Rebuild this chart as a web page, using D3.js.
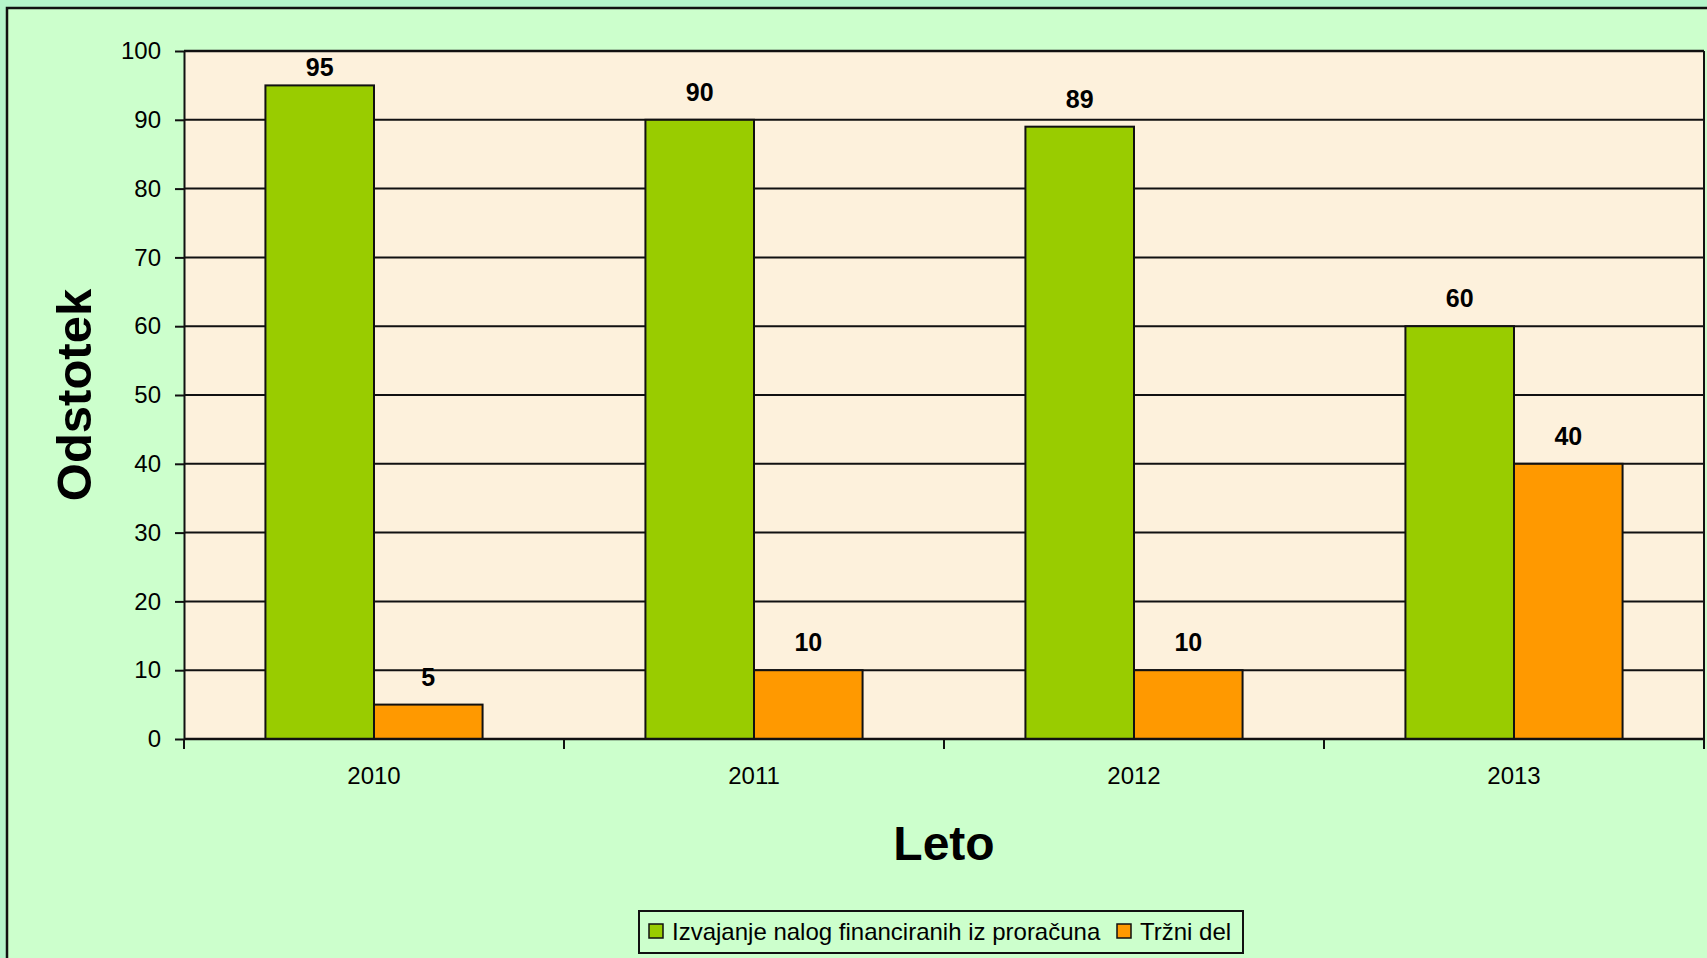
<!DOCTYPE html>
<html>
<head>
<meta charset="utf-8">
<script src="https://cdn.jsdelivr.net/npm/d3@7/dist/d3.min.js"></script>
<style>
  body { margin: 0; background: #b5f5ca; }
  svg { display: block; }
  text { font-family: "Liberation Sans", Arial, sans-serif; fill: #000; }
</style>
</head>
<body>
<div id="chart"></div>
<script>

var years = ["2010", "2011", "2012", "2013"];
var seriesNames = ["Izvajanje nalog financiranih iz proračuna", "Tržni del"];
var budgetValues = [95, 90, 89, 60];
var marketValues = [5, 10, 10, 40];
var yTicks = [0, 10, 20, 30, 40, 50, 60, 70, 80, 90, 100];

var colors = ["#99cc00", "#ff9900"];

var W = 1707, H = 958;
var margin = {top: 51, right: 3, bottom: 219, left: 184},
    width = W - margin.left - margin.right,
    height = H - margin.top - margin.bottom;

var svg = d3.select("#chart").append("svg")
    .attr("width", W)
    .attr("height", H);

// outer chart frame (runs off the right / bottom edge)
svg.append("rect")
    .attr("x", 7).attr("y", 8)
    .attr("width", W + 20).attr("height", H + 20)
    .attr("fill", "#ccffcc")
    .attr("stroke", "#111")
    .attr("stroke-width", 2.5);

var g = svg.append("g")
    .attr("transform", "translate(" + margin.left + "," + margin.top + ")");

// scales
var x0 = d3.scaleBand()
    .domain(years)
    .range([0, width])
    .padding(0);

var x1 = d3.scaleBand()
    .domain(seriesNames)
    .range([0, x0.bandwidth()])
    .paddingInner(0)
    .paddingOuter(0.75);

var y = d3.scaleLinear()
    .domain([0, 100])
    .range([height, 0]);

// plot background
g.append("rect")
    .attr("width", width)
    .attr("height", height)
    .attr("fill", "#fdf1dc");

// gridlines
g.append("g")
    .selectAll("line")
    .data(yTicks.slice(1))
    .enter().append("line")
    .attr("x1", 0).attr("x2", width)
    .attr("y1", function(d) { return y(d); })
    .attr("y2", function(d) { return y(d); })
    .attr("stroke", "#111")
    .attr("stroke-width", 2);

// right border of plot area
g.append("line")
    .attr("x1", width).attr("x2", width)
    .attr("y1", 0).attr("y2", height)
    .attr("stroke", "#111")
    .attr("stroke-width", 2);

// build rows from the arrays
var rows = years.map(function(yr, i) {
    return {year: yr, values: [
        {name: seriesNames[0], value: budgetValues[i], color: colors[0]},
        {name: seriesNames[1], value: marketValues[i], color: colors[1]}
    ]};
});

var groups = g.selectAll(".year")
    .data(rows)
    .enter().append("g")
    .attr("class", "year")
    .attr("transform", function(d) { return "translate(" + x0(d.year) + ",0)"; });

groups.selectAll("rect")
    .data(function(d) { return d.values; })
    .enter().append("rect")
    .attr("x", function(d) { return x1(d.name); })
    .attr("width", x1.bandwidth())
    .attr("y", function(d) { return y(d.value); })
    .attr("height", function(d) { return height - y(d.value); })
    .attr("fill", function(d) { return d.color; })
    .attr("stroke", "#111")
    .attr("stroke-width", 2);

// value labels
groups.selectAll(".lbl")
    .data(function(d) { return d.values; })
    .enter().append("text")
    .attr("class", "lbl")
    .attr("x", function(d) { return x1(d.name) + x1.bandwidth() / 2; })
    .attr("y", function(d) { return Math.max(y(d.value) - 19, 25); })
    .attr("text-anchor", "middle")
    .style("font-size", "25px")
    .style("font-weight", "bold")
    .text(function(d) { return d.value; });

// y axis
var yAxis = g.append("g")
    .call(d3.axisLeft(y).tickValues(yTicks).tickSize(9).tickPadding(14).tickSizeOuter(0));
yAxis.select(".domain").attr("stroke", "#111").attr("stroke-width", 2);
yAxis.selectAll(".tick line").attr("stroke", "#111").attr("stroke-width", 2);
yAxis.selectAll("text").style("font-size", "24px").attr("fill", "#000");

// top border (drawn after axis so it sits on top)
g.append("line")
    .attr("x1", 0).attr("x2", width)
    .attr("y1", 0).attr("y2", 0)
    .attr("stroke", "#111")
    .attr("stroke-width", 2.5);

// x axis
var xAxis = g.append("g")
    .attr("transform", "translate(0," + height + ")");
xAxis.append("line")
    .attr("x1", 0).attr("x2", width)
    .attr("stroke", "#111")
    .attr("stroke-width", 2.5);
var bounds = years.map(function(d) { return x0(d); }).concat([x0.range()[1]]);
xAxis.selectAll(".xt")
    .data(bounds)
    .enter().append("line")
    .attr("class", "xt")
    .attr("x1", function(d) { return d; })
    .attr("x2", function(d) { return d; })
    .attr("y1", 0).attr("y2", 10)
    .attr("stroke", "#111")
    .attr("stroke-width", 2);
xAxis.selectAll(".xl")
    .data(years)
    .enter().append("text")
    .attr("class", "xl")
    .attr("x", function(d) { return x0(d) + x0.bandwidth() / 2; })
    .attr("y", 45)
    .attr("text-anchor", "middle")
    .style("font-size", "24px")
    .text(function(d) { return d; });

// axis titles
svg.append("text")
    .attr("x", margin.left + width / 2)
    .attr("y", 860)
    .attr("text-anchor", "middle")
    .style("font-size", "48px")
    .style("font-weight", "bold")
    .text("Leto");

svg.append("text")
    .attr("transform", "translate(91," + (margin.top + height / 2) + ") rotate(-90)")
    .attr("text-anchor", "middle")
    .style("font-size", "49px")
    .style("font-weight", "bold")
    .text("Odstotek");

// legend
var legend = svg.append("g");
legend.append("rect")
    .attr("x", 639).attr("y", 911)
    .attr("width", 604).attr("height", 42)
    .attr("fill", "#ccffcc")
    .attr("stroke", "#111")
    .attr("stroke-width", 2);

var legendX = [649, 1117];
var items = legend.selectAll(".item")
    .data(seriesNames)
    .enter().append("g")
    .attr("class", "item")
    .attr("transform", function(d, i) { return "translate(" + legendX[i] + ",924)"; });
items.append("rect")
    .attr("width", 14).attr("height", 14)
    .attr("fill", function(d, i) { return colors[i]; })
    .attr("stroke", "#111")
    .attr("stroke-width", 1.5);
items.append("text")
    .attr("x", 23)
    .attr("y", 16)
    .style("font-size", "24px")
    .text(function(d) { return d; });

</script>
</body>
</html>
